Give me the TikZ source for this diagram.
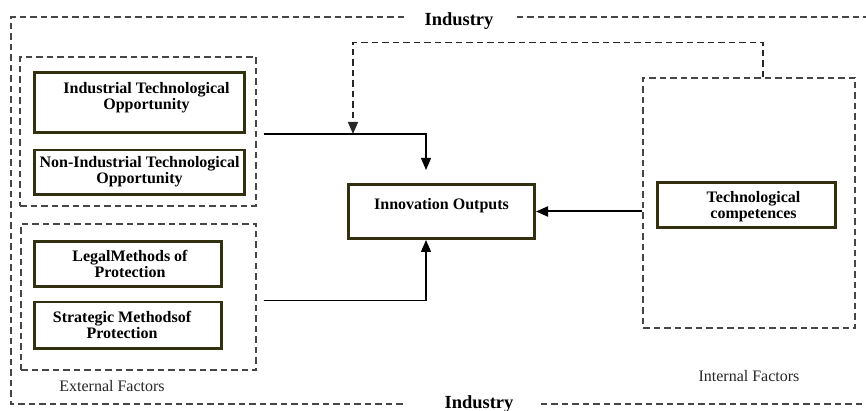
\documentclass[tikz,border=0pt]{standalone}
\usepackage{fontspec}
\setmainfont{Liberation Serif}
\usetikzlibrary{arrows.meta, positioning}
\definecolor{olivedark}{RGB}{50,48,14}
\definecolor{dashgray}{RGB}{70,70,70}

\begin{document}
\begin{tikzpicture}[x=1pt, y=-1pt, >={Triangle[length=12pt,width=10pt]},
  factor/.style={draw=olivedark, line width=2.6pt, fill=white, inner sep=0pt},
  lbl/.style={align=center, font=\fontsize{16}{16}\selectfont\bfseries},
  group/.style={draw=dashgray, line width=1.2pt, dash pattern=on 6.5pt off 4pt, inner sep=0pt},
  conn/.style={line width=1.2pt}]
  \useasboundingbox (0,0) rectangle (866,411);

  % industry frame
  \coordinate (tl) at (11,17);
  \coordinate (bl) at (11,404);
  \node[font=\fontsize{18.5}{20}\selectfont\bfseries] (indtop) at (459,21) {Industry};
  \node[font=\fontsize{18.5}{20}\selectfont\bfseries] (indbot) at (479,404) {Industry};
  \draw[group] ([xshift=-17pt]indtop.west |- tl) -- (tl) -- (bl) -- ([xshift=-35pt]indbot.west |- bl);
  \draw[group] ([xshift=20pt]indtop.east |- tl) -- (866,17);
  \draw[group] ([xshift=24pt]indbot.east |- bl) -- (866,404);

  % external factors
  \node[group, minimum width=236pt, minimum height=149pt] (techgrp) at (138,131.5) {};
  \node[group, minimum width=235pt, minimum height=146pt] (protgrp) at (138.5,297) {};
  \node[factor, minimum width=210.4pt, minimum height=60.4pt,
    label={[lbl, xshift=7pt, yshift=5pt]center:Industrial Technological\\Opportunity}] (ito) at (139.5,102.5) {};
  \node[factor, minimum width=210.4pt, minimum height=44.4pt, below=14.6pt of ito,
    label={[lbl]center:Non-Industrial Technological\\Opportunity}] (nito) {};
  \node[factor, minimum width=187.4pt, minimum height=45.4pt,
    label={[lbl, xshift=2pt]center:LegalMethods of\\Protection}] (lmp) at (128,264) {};
  \node[factor, minimum width=187.4pt, minimum height=46.4pt, below=12.6pt of lmp,
    label={[lbl, xshift=-6pt]center:Strategic Methodsof\\Protection}] (smp) {};
  \node[font=\fontsize{16}{16}\selectfont, text=black!85] (extlbl) at (112,386) {External Factors};

  % internal factors
  \node[group, minimum width=212pt, minimum height=250pt] (intgrp) at (749,203) {};
  \node[factor, minimum width=178.4pt, minimum height=45.4pt,
    label={[lbl, xshift=7pt, yshift=-2pt]center:Technological\\competences}] (tcomp) at (746.5,205) {};
  \node[font=\fontsize{16}{16}\selectfont, text=black!85, below=38pt of intgrp] (intlbl) {Internal Factors};

  % outputs
  \node[factor, minimum width=186.4pt, minimum height=54.4pt,
    label={[lbl, yshift=6pt]center:Innovation Outputs}] (inno) at (441.5,211.5) {};

  % connectors
  \coordinate (join) at (353,134);
  \draw[conn, ->] ([xshift=7pt]techgrp.east |- join) -| ([xshift=-15.5pt]inno.north) [shorten >=13pt];
  \draw[conn, ->] ([xshift=7pt]protgrp.east |- smp.north) -| ([xshift=-15.5pt]inno.south);
  \draw[conn, line width=2pt, ->] (intgrp.west |- inno.east) -- (inno.east);
  \draw[group, draw=black!85, line width=1.3pt, ->] ([xshift=14pt]intgrp.north) -- ++(0,-35) -| (join);
\end{tikzpicture}
\end{document}
